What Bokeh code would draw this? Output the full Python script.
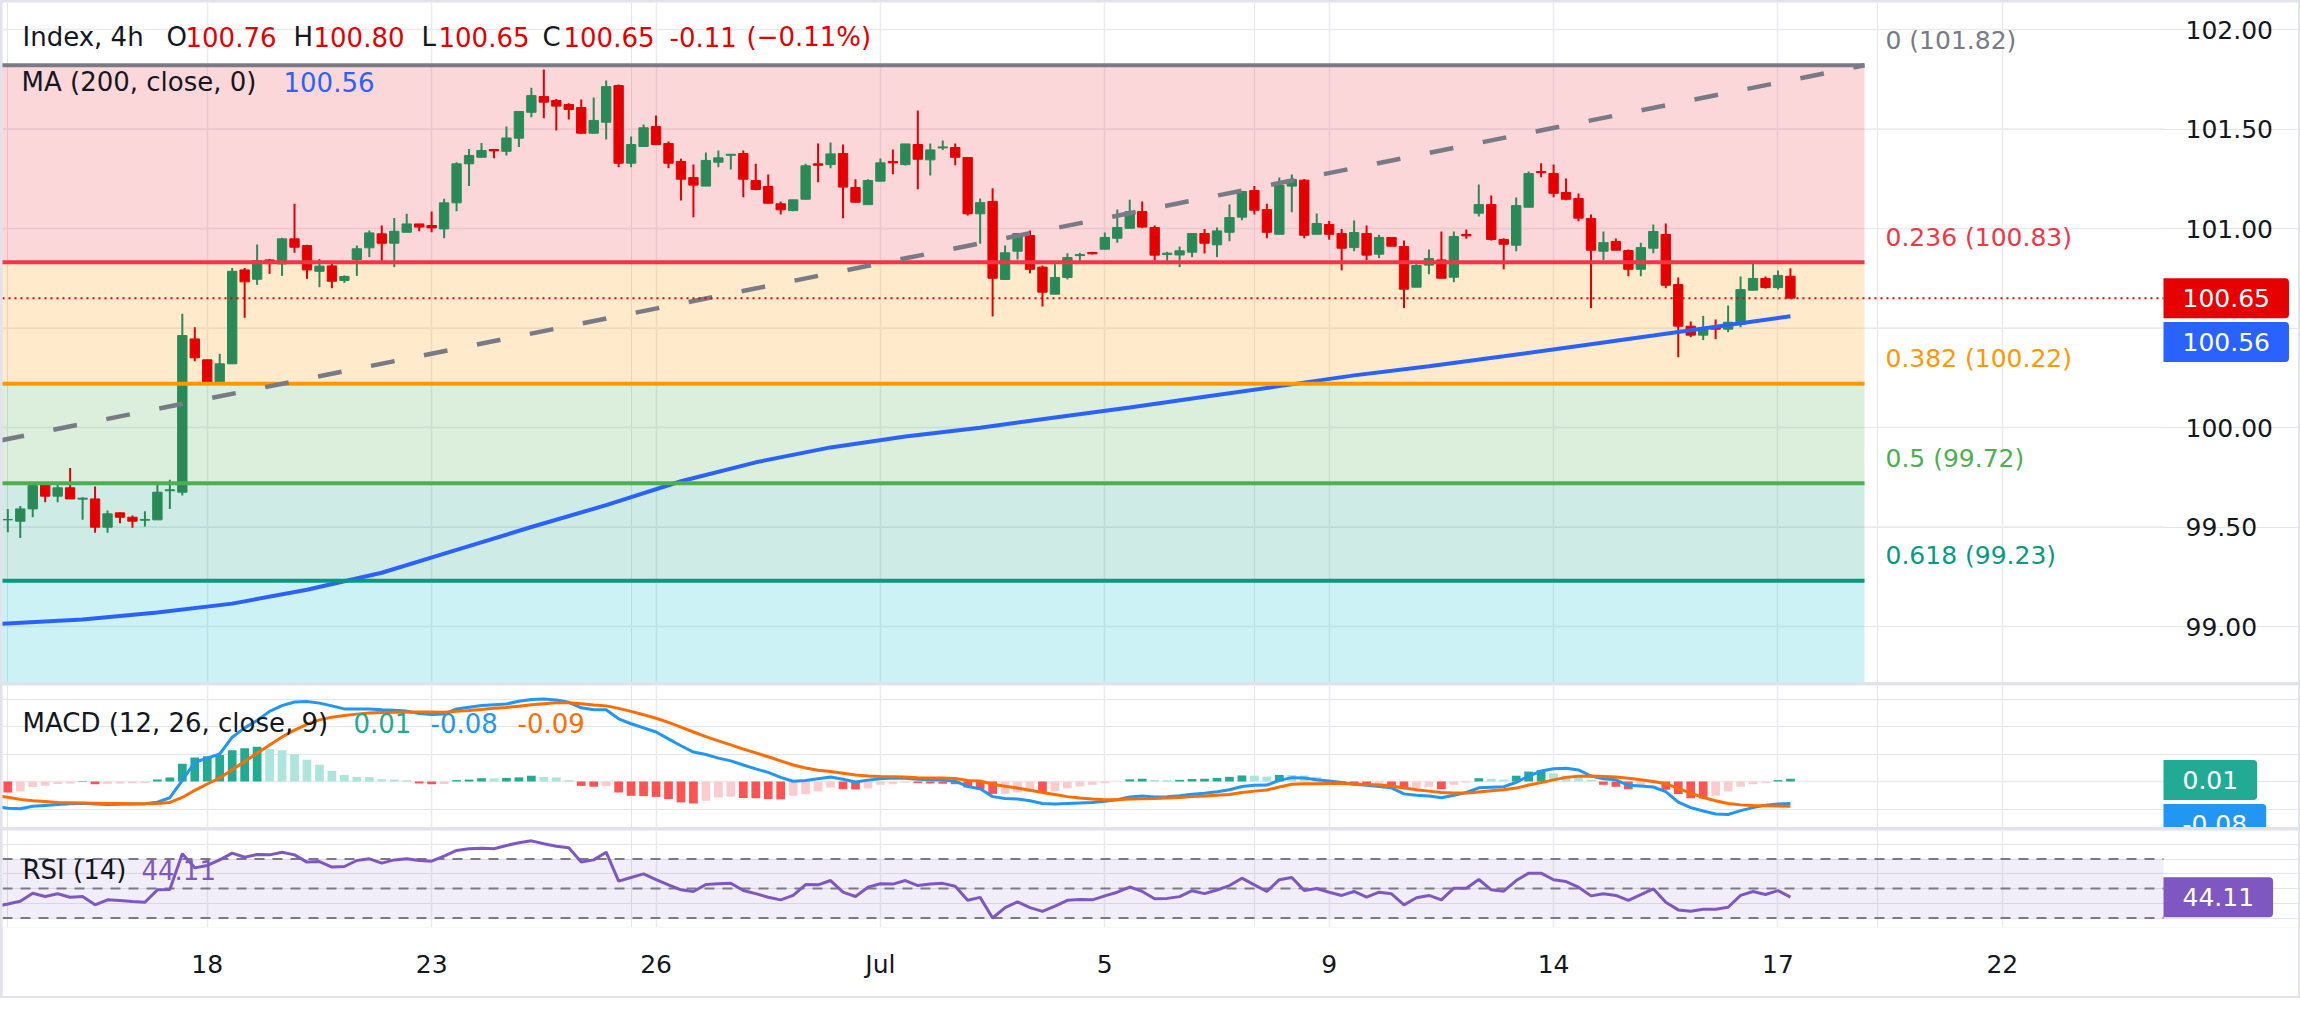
import numpy as np
from bokeh.plotting import figure
from bokeh.models import (ColumnDataSource, Range1d, LinearAxis, FixedTicker, Grid, Label,
                          BoxAnnotation)
from bokeh.core.properties import value
from bokeh.layouts import column
from bokeh.embed import file_html
from bokeh.resources import INLINE

# ---------------------------------------------------------------- data
# 4h candles, oldest first (bar 0 .. bar 143)
OPEN = [99.536, 99.529, 99.591, 99.713, 99.655, 99.697, 99.640, 99.641, 99.499, 99.571,
        99.549, 99.534, 99.536, 99.682, 99.675, 100.445, 100.340, 100.228, 100.320, 100.792,
        100.745, 100.842, 100.822, 100.948, 100.914, 100.785, 100.812, 100.739, 100.844, 100.903,
        100.973, 100.926, 100.981, 101.023, 101.015, 100.998, 101.129, 101.325, 101.358, 101.397,
        101.388, 101.454, 101.584, 101.663, 101.643, 101.623, 101.608, 101.479, 101.534, 101.718,
        101.328, 101.412, 101.512, 101.427, 101.337, 101.256, 101.213, 101.333, 101.368, 101.377,
        101.241, 101.211, 101.124, 101.090, 101.147, 101.325, 101.321, 101.377, 101.206, 101.120,
        101.238, 101.337, 101.321, 101.422, 101.345, 101.405, 101.407, 101.357, 101.074, 101.136,
        100.744, 100.886, 100.965, 100.806, 100.670, 100.754, 100.864, 100.879, 100.896, 100.951,
        101.001, 101.085, 101.005, 100.869, 100.867, 100.881, 100.975, 100.918, 100.981, 101.057,
        101.191, 101.095, 100.971, 101.213, 101.243, 100.971, 101.020, 100.975, 100.904, 100.975,
        100.871, 100.955, 100.909, 100.705, 100.816, 100.842, 100.755, 100.970, 101.077, 101.120,
        100.945, 100.916, 101.107, 101.286, 101.276, 101.181, 101.151, 101.050, 100.886, 100.935,
        100.889, 100.795, 100.901, 100.970, 100.718, 100.509, 100.464, 100.507, 100.494, 100.519,
        100.690, 100.749, 100.703, 100.76]
HIGH = [99.591, 99.605, 99.713, 99.717, 99.722, 99.796, 99.650, 99.703, 99.583, 99.574,
        99.558, 99.579, 99.713, 99.737, 100.571, 100.504, 100.340, 100.370, 100.802, 100.802,
        100.919, 100.847, 100.953, 101.124, 100.918, 100.847, 100.831, 100.764, 100.914, 100.990,
        101.015, 101.053, 101.074, 101.023, 101.085, 101.149, 101.333, 101.400, 101.430, 101.400,
        101.512, 101.588, 101.707, 101.799, 101.651, 101.630, 101.648, 101.658, 101.744, 101.723,
        101.462, 101.522, 101.568, 101.437, 101.350, 101.321, 101.382, 101.392, 101.373, 101.392,
        101.326, 101.271, 101.136, 101.144, 101.325, 101.427, 101.432, 101.422, 101.248, 101.248,
        101.352, 101.397, 101.425, 101.593, 101.427, 101.442, 101.427, 101.357, 101.151, 101.202,
        100.914, 100.975, 100.990, 100.814, 100.821, 100.876, 100.878, 100.883, 100.980, 101.095,
        101.145, 101.136, 101.015, 100.883, 100.909, 100.975, 100.998, 101.005, 101.120, 101.186,
        101.214, 101.124, 101.256, 101.271, 101.249, 101.075, 101.038, 100.998, 101.040, 101.015,
        100.968, 100.955, 100.940, 100.821, 100.894, 100.985, 100.985, 100.995, 101.221, 101.166,
        100.951, 101.156, 101.286, 101.328, 101.321, 101.251, 101.176, 101.070, 100.985, 100.950,
        100.894, 100.929, 101.020, 101.025, 100.754, 100.533, 100.561, 100.543, 100.613, 100.759,
        100.834, 100.759, 100.789, 100.80]
LOW = [99.474, 99.445, 99.549, 99.625, 99.625, 99.641, 99.536, 99.471, 99.471, 99.519,
       99.496, 99.502, 99.536, 99.591, 99.658, 100.333, 100.228, 100.216, 100.320, 100.551,
       100.717, 100.772, 100.762, 100.878, 100.747, 100.705, 100.700, 100.727, 100.762, 100.856,
       100.826, 100.806, 100.981, 100.986, 100.981, 100.951, 101.087, 101.213, 101.358, 101.353,
       101.367, 101.409, 101.559, 101.554, 101.492, 101.548, 101.476, 101.476, 101.447, 101.308,
       101.308, 101.409, 101.422, 101.303, 101.141, 101.057, 101.213, 101.308, 101.296, 101.157,
       101.192, 101.127, 101.070, 101.087, 101.147, 101.233, 101.303, 101.052, 101.132, 101.120,
       101.238, 101.273, 101.316, 101.197, 101.266, 101.395, 101.318, 101.065, 100.923, 100.558,
       100.744, 100.844, 100.775, 100.608, 100.670, 100.744, 100.831, 100.869, 100.896, 100.929,
       101.001, 101.001, 100.839, 100.821, 100.806, 100.856, 100.874, 100.856, 100.936, 101.042,
       101.070, 100.951, 100.971, 101.082, 100.951, 100.971, 100.944, 100.790, 100.886, 100.841,
       100.851, 100.911, 100.600, 100.705, 100.770, 100.750, 100.730, 100.948, 101.060, 100.940,
       100.795, 100.886, 101.107, 101.258, 101.157, 101.142, 101.037, 100.600, 100.841, 100.891,
       100.760, 100.760, 100.876, 100.700, 100.353, 100.454, 100.439, 100.444, 100.479, 100.504,
       100.690, 100.698, 100.693, 100.65]
CLOSE = [99.538, 99.591, 99.708, 99.655, 99.697, 99.641, 99.645, 99.499, 99.566, 99.549,
         99.529, 99.538, 99.675, 99.687, 100.462, 100.350, 100.228, 100.320, 100.785, 100.732,
         100.839, 100.836, 100.948, 100.906, 100.792, 100.811, 100.735, 100.759, 100.898, 100.978,
         100.926, 100.986, 101.023, 101.007, 101.003, 101.129, 101.325, 101.367, 101.392, 101.390,
         101.455, 101.588, 101.668, 101.635, 101.615, 101.598, 101.479, 101.543, 101.713, 101.328,
         101.422, 101.506, 101.422, 101.328, 101.248, 101.218, 101.342, 101.355, 101.373, 101.248,
         101.196, 101.127, 101.094, 101.144, 101.315, 101.318, 101.375, 101.208, 101.132, 101.241,
         101.330, 101.330, 101.425, 101.348, 101.395, 101.410, 101.358, 101.074, 101.130, 100.750,
         100.878, 100.975, 100.795, 100.680, 100.754, 100.854, 100.869, 100.873, 100.955, 101.005,
         101.085, 101.007, 100.866, 100.876, 100.888, 100.975, 100.926, 100.988, 101.055, 101.186,
         101.092, 100.981, 101.216, 101.246, 100.966, 101.025, 100.971, 100.901, 100.980, 100.866,
         100.955, 100.911, 100.695, 100.814, 100.849, 100.750, 100.960, 100.963, 101.120, 100.945,
         100.921, 101.115, 101.276, 101.280, 101.177, 101.147, 101.052, 100.891, 100.929, 100.891,
         100.795, 100.904, 100.985, 100.715, 100.509, 100.464, 100.499, 100.494, 100.529, 100.693,
         100.749, 100.703, 100.764, 100.65]

# 200-period moving average, sampled along the curve (bar, value)
MA_BARS = [-1, 6, 12, 18, 24, 30, 36, 42, 48, 54, 60, 66, 72, 78, 84, 90, 96, 102,
           108, 114, 120, 126, 132, 138, 143]
MA_200 = [99.012, 99.035, 99.070, 99.115, 99.185, 99.270, 99.385, 99.500, 99.610, 99.730,
          99.825, 99.900, 99.955, 99.999, 100.050, 100.100, 100.154, 100.208, 100.262, 100.308,
          100.358, 100.410, 100.462, 100.515, 100.559]

# Fibonacci retracement
FIB_RATIOS = ["0", "0.236", "0.382", "0.5", "0.618", "0.786"]
FIB_LEVELS = [101.82, 100.83, 100.22, 99.72, 99.23, 98.52]
FIB_COLORS = ["#787b86", "#f23645", "#ff9800", "#4caf50", "#089981", "#00bcd4"]
FIB_SPAN = [-40.0, 148.94]          # bars covered by the retracement drawing

# dashed trend line (bar, price)
TREND_BARS = [-0.59, 148.94]
TREND_PRICES = [99.935, 101.82]

# MACD (12, 26, close, 9), bars -1 .. 143
MACD_LINE = [-0.090,
    -0.097, -0.099, -0.090, -0.087, -0.084, -0.081, -0.079, -0.082, -0.084, -0.083,
    -0.082, -0.081, -0.075, -0.059, 0.004, 0.070, 0.085, 0.100, 0.161, 0.195,
    0.222, 0.255, 0.276, 0.289, 0.291, 0.285, 0.275, 0.264, 0.264, 0.264,
    0.261, 0.259, 0.256, 0.247, 0.244, 0.245, 0.264, 0.270, 0.276, 0.279,
    0.282, 0.292, 0.298, 0.300, 0.296, 0.288, 0.268, 0.261, 0.261, 0.228,
    0.210, 0.195, 0.180, 0.155, 0.130, 0.107, 0.098, 0.085, 0.075, 0.060,
    0.046, 0.033, 0.015, 0.001, 0.004, 0.010, 0.016, 0.008, -0.002, 0.005,
    0.010, 0.013, 0.012, 0.008, 0.006, 0.005, 0.001, -0.018, -0.026, -0.055,
    -0.062, -0.064, -0.070, -0.080, -0.082, -0.080, -0.078, -0.076, -0.072, -0.066,
    -0.056, -0.053, -0.056, -0.055, -0.052, -0.046, -0.043, -0.037, -0.030, -0.018,
    -0.014, -0.013, 0.004, 0.014, 0.013, 0.006, 0.002, -0.004, -0.010, -0.014,
    -0.018, -0.023, -0.045, -0.050, -0.053, -0.059, -0.050, -0.040, -0.023, -0.021,
    -0.019, -0.003, 0.020, 0.038, 0.046, 0.048, 0.042, 0.020, 0.010, 0.006,
    -0.014, -0.016, -0.020, -0.037, -0.075, -0.095, -0.107, -0.118, -0.120, -0.106,
    -0.095, -0.086, -0.082, -0.080]
MACD_SIGNAL = [-0.052,
    -0.057, -0.065, -0.070, -0.073, -0.076, -0.077, -0.078, -0.079, -0.080, -0.080,
    -0.081, -0.081, -0.080, -0.076, -0.058, -0.032, -0.009, 0.013, 0.043, 0.073,
    0.103, 0.133, 0.162, 0.187, 0.208, 0.224, 0.234, 0.240, 0.245, 0.249,
    0.251, 0.252, 0.253, 0.253, 0.253, 0.252, 0.255, 0.258, 0.262, 0.266,
    0.269, 0.274, 0.279, 0.283, 0.286, 0.286, 0.283, 0.278, 0.275, 0.266,
    0.255, 0.243, 0.230, 0.215, 0.198, 0.180, 0.163, 0.148, 0.133, 0.118,
    0.104, 0.090, 0.075, 0.060, 0.049, 0.041, 0.036, 0.030, 0.024, 0.020,
    0.018, 0.017, 0.016, 0.014, 0.013, 0.013, 0.011, 0.004, 0.002, -0.010,
    -0.017, -0.024, -0.032, -0.040, -0.047, -0.055, -0.060, -0.064, -0.066, -0.066,
    -0.064, -0.063, -0.062, -0.060, -0.058, -0.055, -0.053, -0.050, -0.047, -0.040,
    -0.035, -0.031, -0.020, -0.010, -0.008, -0.008, -0.007, -0.007, -0.009, -0.011,
    -0.013, -0.016, -0.024, -0.030, -0.035, -0.040, -0.042, -0.042, -0.038, -0.034,
    -0.030, -0.024, -0.013, -0.004, 0.006, 0.015, 0.019, 0.020, 0.018, 0.016,
    0.012, 0.006, 0.000, -0.008, -0.025, -0.042, -0.058, -0.070, -0.080, -0.085,
    -0.087, -0.088, -0.089, -0.090]
# histogram, bars 0 .. 143
MACD_HIST = [
    -0.040, -0.036, -0.020, -0.015, -0.009, -0.007, 0.002, -0.010, -0.008, -0.007,
    -0.006, -0.005, 0.007, 0.015, 0.065, 0.087, 0.092, 0.096, 0.114, 0.121,
    0.126, 0.118, 0.114, 0.099, 0.079, 0.061, 0.039, 0.024, 0.017, 0.016,
    0.008, 0.007, 0.005, -0.007, -0.010, -0.009, 0.005, 0.007, 0.012, 0.011,
    0.013, 0.015, 0.021, 0.017, 0.015, 0.005, -0.016, -0.019, -0.017, -0.040,
    -0.052, -0.053, -0.056, -0.064, -0.076, -0.080, -0.070, -0.058, -0.055, -0.060,
    -0.061, -0.064, -0.065, -0.052, -0.046, -0.036, -0.022, -0.028, -0.029, -0.025,
    -0.012, -0.010, -0.004, -0.006, -0.007, -0.008, -0.010, -0.022, -0.028, -0.045,
    -0.045, -0.040, -0.038, -0.040, -0.035, -0.025, -0.018, -0.012, -0.006, 0.000,
    0.008, 0.010, 0.006, 0.005, 0.006, 0.009, 0.010, 0.013, 0.017, 0.022,
    0.021, 0.018, 0.024, 0.024, 0.022, 0.017, 0.005, -0.004, -0.007, -0.012,
    -0.010, -0.022, -0.028, -0.024, -0.019, -0.028, -0.012, -0.004, 0.012, 0.010,
    0.007, 0.021, 0.036, 0.042, 0.030, 0.021, 0.015, 0.006, -0.012, -0.019,
    -0.028, -0.012, -0.005, -0.030, -0.046, -0.061, -0.062, -0.052, -0.036, -0.019,
    -0.010, -0.005, 0.005, 0.010]

# RSI (14), bars -1 .. 143
RSI_14 = [37.8,
    39.5, 41.4, 46.8, 44.6, 46.4, 44.1, 44.5, 38.9, 42.3, 41.8,
    41.2, 40.7, 49.1, 49.3, 73.5, 64.0, 65.6, 69.4, 74.0, 71.2,
    73.1, 72.8, 74.6, 72.8, 67.9, 68.3, 64.5, 64.9, 69.0, 70.1,
    67.2, 69.4, 70.2, 69.0, 68.5, 72.0, 75.8, 76.9, 77.3, 77.0,
    79.2, 81.0, 82.3, 80.3, 78.7, 77.6, 67.9, 69.4, 74.6, 55.0,
    57.5, 59.9, 56.0, 52.5, 49.1, 48.0, 52.7, 53.2, 53.6, 48.6,
    46.5, 44.1, 42.3, 45.3, 52.7, 52.5, 55.4, 47.5, 44.6, 50.9,
    53.2, 53.0, 55.4, 52.0, 53.0, 53.5, 51.5, 42.0, 44.0, 30.0,
    37.0, 41.0, 37.0, 34.5, 38.0, 42.0, 42.5, 42.3, 45.0, 47.5,
    51.0, 48.0, 43.0, 43.3, 44.5, 48.5, 46.5, 49.0, 52.0, 57.0,
    52.5, 48.0, 56.0, 57.5, 48.6, 50.0, 47.5, 45.3, 48.0, 44.1,
    47.5, 46.4, 38.9, 43.7, 45.3, 42.3, 50.2, 50.2, 56.1, 49.1,
    48.2, 55.4, 60.4, 60.4, 55.9, 54.7, 50.9, 45.0, 46.4, 45.3,
    41.9, 45.9, 49.8, 40.7, 35.5, 34.6, 36.0, 36.0, 37.3, 45.3,
    48.0, 45.9, 48.6, 44.11]
RSI_BANDS = [70, 50, 30]

# axes
DAY_TICKS = [16, 34, 52, 70, 88, 106, 124, 142, 160]
DAY_LABELS = ["18", "23", "26", "Jul", "5", "9", "14", "17", "22"]
PRICE_TICKS = [99.0, 99.5, 100.0, 101.0, 101.5, 102.0]
PRICE_GRID = [99.0, 99.5, 100.0, 100.5, 101.0, 101.5, 102.0]

# ---------------------------------------------------------------- styling / geometry
FONT = "DejaVu Sans"
TEXT = "#131722"
UP = "#2a8a57"
DOWN = "#e50000"
GRID_C = "#e9ebf0"
MA_C = "#2962ff"
MACD_C = "#2196f3"
SIG_C = "#ff6d00"
RSI_C = "#7e57c2"

W = 2296            # figure width inside the 2px frame
PANE_R = 2161       # right edge of the chart area; the price scale sits to its right
BAR0 = 5.3          # figure x of bar 0
BAR_PX = 12.466     # px per bar


def bar_at(fx):
    return (fx - BAR0) / BAR_PX


def price_at(fy):   # main pane, figure y from top
    return 102.0 - (fy + 2 - 29) / 199.0


def macd_at(fy):
    return (96.0 - fy) / 275.0


def rsi_at(fy):
    return 50.0 + (58.0 - fy) / 1.475


XL, XR = bar_at(0), bar_at(PANE_R)
xr = Range1d(bar_at(0), bar_at(W))


def base_fig(height, yr, bottom=0):
    f = figure(width=W, height=height, x_range=xr, y_range=yr, output_backend="svg",
               toolbar_location=None, x_axis_location=None, y_axis_location=None,
               min_border_left=0, min_border_right=0, min_border_top=0,
               min_border_bottom=bottom, background_fill_color="white",
               border_fill_color="white", outline_line_color=None)
    f.add_layout(Grid(dimension=0, ticker=FixedTicker(ticks=DAY_TICKS),
                      grid_line_color=GRID_C, grid_line_width=1.5))
    return f


def hline(fig, y, **kw):
    fig.segment(x0=[XL] * len(y), y0=y, x1=[XR] * len(y), y1=y, **kw)


def txt(fig, x, y, text, color, size="26px"):
    fig.add_layout(Label(x=x, y=y, x_units="screen", text=text, text_color=color,
                         text_font=FONT, text_font_size=size, text_baseline="middle",
                         text_align="left"))


def tag(fig, y, text, color):
    fig.add_layout(Label(x=PANE_R, y=y, x_units="screen", text=text, text_color="white",
                         text_font=FONT, text_font_size="25px", text_baseline="middle",
                         text_align="left", background_fill_color=color,
                         padding=dict(left=19, right=19, top=11, bottom=11),
                         border_radius=dict(top_left=0, top_right=4, bottom_right=4,
                                            bottom_left=0)))


# ---------------------------------------------------------------- price pane
p = base_fig(680, Range1d(price_at(680), price_at(0)))
hline(p, PRICE_GRID, line_color=GRID_C, line_width=1.5)

# price scale
p.text(x=[bar_at(2183)] * len(PRICE_TICKS), y=PRICE_TICKS,
       text=[f"{v:.2f}" for v in PRICE_TICKS], text_font=value(FONT),
       text_font_size="25px", text_color=TEXT, text_baseline="middle", text_align="left")

# retracement zones
fib_src = ColumnDataSource(dict(left=[FIB_SPAN[0]] * 5, right=[FIB_SPAN[1]] * 5,
                                top=FIB_LEVELS[:-1], bottom=FIB_LEVELS[1:], color=FIB_COLORS[1:]))
p.quad(left="left", right="right", top="top", bottom="bottom", fill_color="color",
       fill_alpha=0.2, line_color=None, source=fib_src)

# candles
o, h, l, c = map(np.array, (OPEN, HIGH, LOW, CLOSE))
cols = np.where(c >= o, UP, DOWN)
csrc = ColumnDataSource(dict(x=np.arange(len(c)), h=h, l=l, top=np.maximum(o, c),
                             bottom=np.minimum(o, c), color=cols))
p.segment("x", "h", "x", "l", source=csrc, line_color="color", line_width=2)
p.vbar("x", 0.75, "top", "bottom", source=csrc, fill_color="color", line_color="color",
       line_width=1)

# moving average
p.line(MA_BARS, MA_200, line_color=MA_C, line_width=4)

# retracement lines + labels
p.segment(x0=[FIB_SPAN[0]] * 5, y0=FIB_LEVELS[:-1], x1=[FIB_SPAN[1]] * 5, y1=FIB_LEVELS[:-1],
          line_color=FIB_COLORS[:-1], line_width=4)
for r, lv, col in zip(FIB_RATIOS[:-1], FIB_LEVELS[:-1], FIB_COLORS[:-1]):
    p.add_layout(Label(x=1883, x_units="screen", y=lv, y_offset=25, text=f"{r} ({lv:.2f})",
                       text_color=col, text_font=FONT, text_font_size="25px",
                       text_baseline="middle", text_align="left"))

# trend line
p.line(TREND_BARS, TREND_PRICES, line_color="#787b86", line_width=4.5, line_dash="24 30")

# last price line
hline(p, [CLOSE[-1]], line_color=DOWN, line_width=2, line_dash="2 4")

# legend
chg = CLOSE[-1] - CLOSE[-2]
pct = chg / CLOSE[-2] * 100
HY = price_at(34)
runs = [("Index, 4h", 20, TEXT), ("O", 164, TEXT), (f"{OPEN[-1]:.2f}", 183, DOWN),
        ("H", 291, TEXT), (f"{HIGH[-1]:.2f}", 311, DOWN), ("L", 419, TEXT),
        (f"{LOW[-1]:.2f}", 436, DOWN), ("C", 540, TEXT), (f"{CLOSE[-1]:.2f}", 561, DOWN),
        (f"{chg:.2f}", 667, DOWN), (f"({pct:.2f}%)".replace("-", "\u2212"), 744, DOWN)]
for t, x, col in runs:
    txt(p, x, HY, t, col)
txt(p, 19, price_at(79), "MA (200, close, 0)", TEXT)
txt(p, 281, price_at(79), f"{MA_200[-1]:.2f}", MA_C)

# price tags
tag(p, CLOSE[-1], f"{CLOSE[-1]:.2f}", "#e60000")
tag(p, price_at(339.5), f"{MA_200[-1]:.2f}", MA_C)

# ---------------------------------------------------------------- MACD pane
pm = base_fig(142, Range1d(macd_at(142), macd_at(0)))
hline(pm, [0.0], line_color="#ebecf0", line_width=1.5)
hist = np.array(MACD_HIST)
prev = np.concatenate([[0.0], hist[:-1]])
hcol = np.where(hist >= 0, np.where(hist > prev, "#22ab94", "#ace5dc"),
                np.where(hist < prev, "#ff5252", "#fccbcd"))
pm.vbar(x=np.arange(len(hist)), width=0.7, top=np.maximum(hist, 0), bottom=np.minimum(hist, 0),
        fill_color=hcol, line_color=None)
lx = np.arange(-1, len(MACD_LINE) - 1)
pm.line(lx, MACD_LINE, line_color=MACD_C, line_width=3)
pm.line(lx, MACD_SIGNAL, line_color=SIG_C, line_width=3)
MY = macd_at(722 - 685)
txt(pm, 20, MY, "MACD (12, 26, close, 9)", TEXT)
txt(pm, 351, MY, f"{MACD_HIST[-1]:.2f}", "#22ab94")
txt(pm, 428, MY, f"{MACD_LINE[-1]:.2f}", MACD_C)
txt(pm, 515, MY, f"{MACD_SIGNAL[-1]:.2f}", SIG_C)
tag(pm, macd_at(779.5 - 685), f"{MACD_HIST[-1]:.2f}", "#22ab94")
tag(pm, macd_at(823.5 - 685), f"{MACD_LINE[-1]:.2f}", MACD_C)

# ---------------------------------------------------------------- RSI pane
pr = base_fig(166, Range1d(rsi_at(97), rsi_at(0)), bottom=69)
pr.add_layout(BoxAnnotation(bottom=RSI_BANDS[-1], top=RSI_BANDS[0], right=XR, fill_color=RSI_C,
                            fill_alpha=0.1, line_color=None, level="underlay"))
hline(pr, RSI_BANDS, line_color="#787b86", line_width=2, line_dash="10 8")
pr.line(np.arange(-1, len(RSI_14) - 1), RSI_14, line_color=RSI_C, line_width=3)
RY = rsi_at(869 - 830)
txt(pr, 20, RY, "RSI (14)", TEXT)
txt(pr, 139, RY, f"{RSI_14[-1]:.2f}", RSI_C)
tag(pr, RSI_14[-1], f"{RSI_14[-1]:.2f}", RSI_C)

xax = LinearAxis(ticker=FixedTicker(ticks=DAY_TICKS),
                 major_label_overrides={t: s for t, s in zip(DAY_TICKS, DAY_LABELS)},
                 major_label_text_font=FONT, major_label_text_font_size="25px",
                 major_label_text_color=TEXT, axis_line_color=None, major_tick_line_color=None,
                 minor_tick_line_color=None, major_tick_out=0, major_tick_in=0,
                 major_label_standoff=22)
pr.add_layout(xax, "below")

layout = column(p, pm, pr, spacing=3,
                styles={"background-color": "#e0e3eb", "padding": "2px"})

open("out.html", "w").write(file_html(layout, INLINE, title="Index 4h"))
